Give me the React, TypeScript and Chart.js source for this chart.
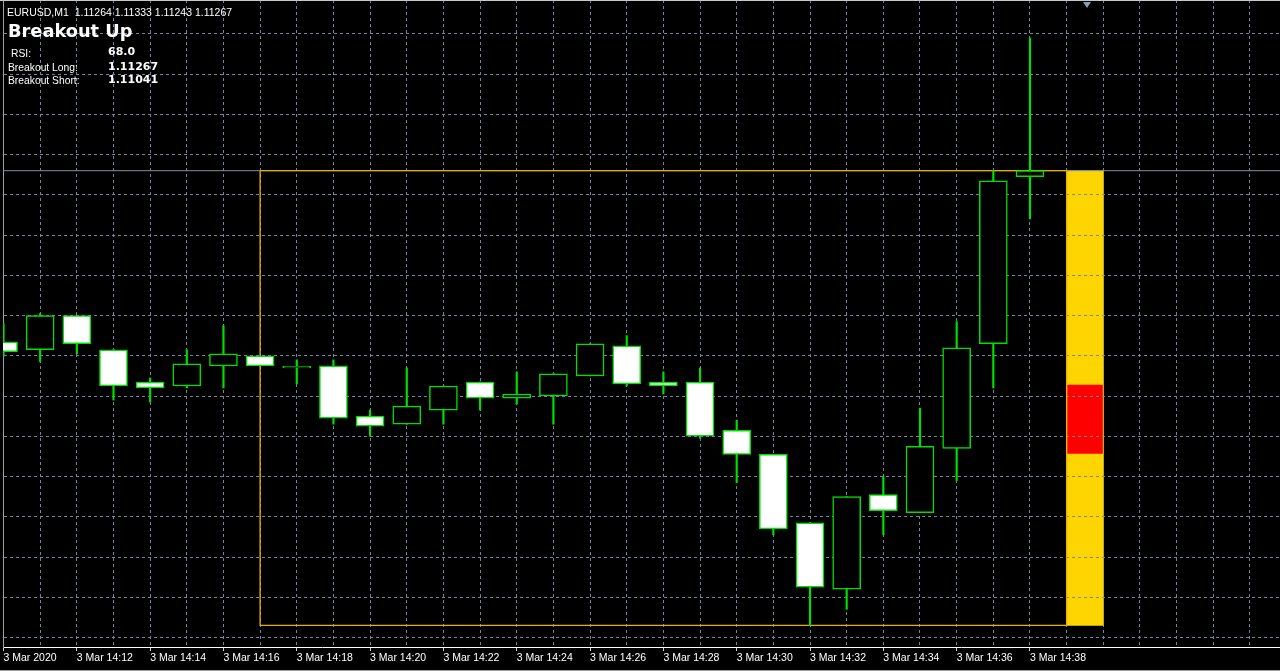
import React, { useEffect, useRef } from 'react';
import { Chart, registerables } from 'chart.js';

Chart.register(...registerables);

// ---- Data (EURUSD, M1, 3 Mar 2020) ----
const TIMES = [
  '14:10', '14:11', '14:12', '14:13', '14:14', '14:15', '14:16', '14:17', '14:18', '14:19',
  '14:20', '14:21', '14:22', '14:23', '14:24', '14:25', '14:26', '14:27', '14:28', '14:29',
  '14:30', '14:31', '14:32', '14:33', '14:34', '14:35', '14:36', '14:37', '14:38',
];
const OPEN = [
  1.11182, 1.11178, 1.11195, 1.11178, 1.11162, 1.1116, 1.1117, 1.11175, 1.11169, 1.1117,
  1.11145, 1.11141, 1.11148, 1.11162, 1.11154, 1.11155, 1.11165, 1.1118, 1.11162, 1.11162,
  1.11138, 1.11126, 1.11092, 1.11059, 1.11106, 1.11097, 1.11129, 1.11181, 1.11264,
];
const HIGH = [
  1.11191, 1.11196, 1.11195, 1.11178, 1.11164, 1.11178, 1.1119, 1.11175, 1.11173, 1.11173,
  1.11148, 1.11169, 1.1116, 1.11162, 1.11167, 1.11166, 1.11181, 1.11185, 1.11167, 1.11169,
  1.11143, 1.11126, 1.11092, 1.11105, 1.11115, 1.11149, 1.11192, 1.11267, 1.11333,
];
const LOW = [
  1.11175, 1.11172, 1.11176, 1.11153, 1.11152, 1.11159, 1.11159, 1.1117, 1.11161, 1.11141,
  1.11135, 1.11141, 1.11141, 1.11148, 1.11151, 1.11141, 1.11165, 1.1116, 1.11156, 1.11134,
  1.11112, 1.11086, 1.11041, 1.11049, 1.11086, 1.11097, 1.11113, 1.11159, 1.11243,
];
const CLOSE = [
  1.11177, 1.11195, 1.11181, 1.1116, 1.11159, 1.11171, 1.11176, 1.1117, 1.11169, 1.11144,
  1.1114, 1.1115, 1.1116, 1.11154, 1.11156, 1.11166, 1.11181, 1.11161, 1.1116, 1.11135,
  1.11126, 1.11089, 1.1106, 1.11105, 1.11098, 1.1113, 1.11179, 1.11262, 1.11267,
];

// Tick labels every two minutes (first one shows the date)
const TICK_LABELS = [
  '3 Mar 2020', '3 Mar 14:12', '3 Mar 14:14', '3 Mar 14:16', '3 Mar 14:18',
  '3 Mar 14:20', '3 Mar 14:22', '3 Mar 14:24', '3 Mar 14:26', '3 Mar 14:28',
  '3 Mar 14:30', '3 Mar 14:32', '3 Mar 14:34', '3 Mar 14:36', '3 Mar 14:38',
];

// Price grid levels
const GRID_PRICES = [
  1.11335, 1.11315, 1.11295, 1.11275, 1.11255, 1.11235, 1.11215, 1.11195,
  1.11175, 1.11155, 1.11135, 1.11115, 1.11095, 1.11075, 1.11055, 1.11035,
];

// Breakout indicator
const BREAKOUT_LONG = 1.11267;
const BREAKOUT_SHORT = 1.11041;
const RANGE_START_INDEX = 7; // 14:17
const RANGE_END_INDEX = 29; // 14:39
const ZONE_INDEX = 29.5;
const RED_ZONE = [1.111265, 1.111605];
const RSI_VALUE = '68.0';

// ---- Styles ----
const GREEN = '#00e000';
const GRID_COLOR = '#74849a';
const HLINE_COLOR = '#7f8fa0';
const RANGE_COLOR = '#e8b000';
const YELLOW = '#ffd500';
const RED = '#ff0000';

const X_MIN = -0.0136;
const X_MAX = 34.82;
const Y_MIN = 1.1103027;
const Y_MAX = 1.1135184;

const YELLOW_DS = 0;
const RED_DS = 1;

function labelFor(v: number): string {
  const i = Math.round(v);
  if (Math.abs(v - i) > 1e-6) return '';
  if (i % 2 !== 0) return '';
  return TICK_LABELS[i / 2] ?? '';
}

const gridOverZonePlugin = {
  id: 'gridOverZone',
  afterDatasetDraw(chart: any, args: any) {
    if (args.index !== RED_DS) return;
    const el = chart.getDatasetMeta(YELLOW_DS).data[0];
    if (!el) return;
    const { x, y, base, width } = el.getProps(['x', 'y', 'base', 'width'], true);
    const ctx = chart.ctx;
    ctx.save();
    ctx.beginPath();
    ctx.rect(x - width / 2, Math.min(y, base), width, Math.abs(base - y));
    ctx.clip();
    chart.scales.x.drawGrid(chart.chartArea);
    chart.scales.y.drawGrid(chart.chartArea);
    ctx.restore();
  },
};

export default function App() {
  const ref = useRef<HTMLCanvasElement>(null);

  useEffect(() => {
    document.body.style.margin = '0';
    const canvas = ref.current;
    if (!canvas) return;

    const bodies = TIMES.map((_, i) => ({ x: i, y: [OPEN[i], CLOSE[i]] }));
    const wicks = TIMES.map((_, i) => ({ x: i, y: [LOW[i], HIGH[i]] }));
    const bodyFill = TIMES.map((_, i) => (CLOSE[i] >= OPEN[i] ? '#000000' : '#ffffff'));

    const chart = new Chart(canvas, {
      type: 'bar',
      data: {
        datasets: [
          {
            type: 'bar',
            label: 'zone',
            data: [{ x: ZONE_INDEX, y: [BREAKOUT_SHORT, BREAKOUT_LONG] }],
            backgroundColor: YELLOW,
            borderWidth: 0,
            barThickness: 37,
            grouped: false,
            order: 10,
          } as any,
          {
            type: 'bar',
            label: 'red',
            data: [{ x: ZONE_INDEX, y: RED_ZONE }],
            backgroundColor: RED,
            borderWidth: 0,
            barThickness: 35,
            grouped: false,
            order: 9,
          } as any,
          {
            type: 'line',
            label: 'level',
            data: [
              { x: X_MIN - 1, y: BREAKOUT_LONG },
              { x: X_MAX + 1, y: BREAKOUT_LONG },
            ],
            borderColor: HLINE_COLOR,
            borderWidth: 1,
            pointRadius: 0,
            order: 8,
          } as any,
          {
            type: 'line',
            label: 'range',
            data: [
              { x: RANGE_START_INDEX, y: BREAKOUT_LONG },
              { x: RANGE_END_INDEX, y: BREAKOUT_LONG },
              { x: RANGE_END_INDEX, y: BREAKOUT_SHORT },
              { x: RANGE_START_INDEX, y: BREAKOUT_SHORT },
              { x: RANGE_START_INDEX, y: BREAKOUT_LONG },
            ],
            borderColor: RANGE_COLOR,
            borderWidth: 1.3,
            pointRadius: 0,
            tension: 0,
            order: 7,
          } as any,
          {
            type: 'bar',
            label: 'wick',
            data: wicks,
            backgroundColor: GREEN,
            borderWidth: 0,
            barThickness: 1.5,
            grouped: false,
            order: 6,
          } as any,
          {
            type: 'bar',
            label: 'body',
            data: bodies,
            backgroundColor: bodyFill,
            borderColor: GREEN,
            borderWidth: 1.5,
            borderSkipped: false,
            barThickness: 28,
            minBarLength: 1.5,
            grouped: false,
            order: 5,
          } as any,
        ],
      },
      options: {
        responsive: false,
        animation: false,
        devicePixelRatio: 1,
        events: [],
        layout: { padding: { left: 3, right: 0, top: 0, bottom: 0 } },
        plugins: {
          legend: { display: false },
          tooltip: { enabled: false },
          title: { display: false },
        },
        scales: {
          x: {
            type: 'linear',
            position: 'bottom',
            min: X_MIN,
            max: X_MAX,
            offset: false,
            afterBuildTicks: (s: any) => {
              const t: any[] = [];
              for (let v = 0; v <= Math.floor(X_MAX); v++) t.push({ value: v });
              s.ticks = t;
            },
            afterFit: (s: any) => {
              s.height = 24;
            },
            ticks: {
              autoSkip: false,
              maxRotation: 0,
              minRotation: 0,
              align: 'start',
              padding: 1,
              color: '#ffffff',
              font: { family: 'Liberation Sans', size: 10.5 },
              callback: (v: any) => labelFor(Number(v)),
            },
            grid: {
              color: GRID_COLOR,
              lineWidth: 1,
              offset: false,
              drawTicks: true,
              tickLength: 4,
              tickWidth: 1,
              tickColor: (c: any) =>
                c.tick && labelFor(c.tick.value) !== '' ? '#d0d0d0' : 'rgba(0,0,0,0)',
            },
            border: { display: true, color: '#ffffff', width: 1, dash: [3, 3] },
          } as any,
          y: {
            type: 'linear',
            position: 'left',
            min: Y_MIN,
            max: Y_MAX,
            afterBuildTicks: (s: any) => {
              s.ticks = GRID_PRICES.map((v) => ({ value: v }));
            },
            afterFit: (s: any) => {
              s.width = 0;
            },
            ticks: { display: false },
            grid: { color: GRID_COLOR, lineWidth: 1, drawTicks: false },
            border: { display: true, color: '#a0a0a0', width: 1, dash: [3, 3] },
          } as any,
        },
      } as any,
      plugins: [gridOverZonePlugin],
    } as any);

    return () => chart.destroy();
  }, []);

  const small = { fontFamily: 'Liberation Sans', fontSize: 10.3, fill: '#ffffff' };
  const bold = { fontFamily: 'DejaVu Sans', fontWeight: 700, fontSize: 11, fill: '#ffffff' };

  return (
    <div
      style={{
        position: 'fixed',
        left: 0,
        top: 0,
        width: 1280,
        height: 671,
        background: '#000000',
        overflow: 'hidden',
      }}
    >
      <canvas
        ref={ref}
        width={1280}
        height={671}
        style={{ position: 'absolute', left: 0, top: 0, width: 1280, height: 671 }}
      />
      <div style={{ position: 'absolute', left: 0, top: 0, width: 1280, height: 1, background: '#c8c8c8' }} />
      <div style={{ position: 'absolute', left: 0, top: 670, width: 1280, height: 1, background: '#a0a0a0' }} />
      <div
        style={{
          position: 'absolute',
          left: 1083,
          top: 2,
          width: 0,
          height: 0,
          borderLeft: '4px solid transparent',
          borderRight: '4px solid transparent',
          borderTop: '6px solid #8a9bb0',
        }}
      />
      <svg
        width={1280}
        height={100}
        style={{ position: 'absolute', left: 0, top: 0, pointerEvents: 'none' }}
      >
        <text x={7} y={16} style={{ ...small, fontSize: 10.5, whiteSpace: 'pre' }}>
          {'EURUSD,M1  1.11264 1.11333 1.11243 1.11267'}
        </text>
        <text x={8} y={36.7} style={{ fontFamily: 'DejaVu Sans', fontWeight: 700, fontSize: 17.8, fill: '#ffffff' }}>
          Breakout Up
        </text>
        <text x={11} y={56.7} style={small}>RSI:</text>
        <text x={108} y={54.5} style={bold}>{RSI_VALUE}</text>
        <text x={8} y={70.7} style={small}>Breakout Long:</text>
        <text x={108} y={70} style={bold}>{BREAKOUT_LONG.toFixed(5)}</text>
        <text x={8} y={84.3} style={small}>Breakout Short:</text>
        <text x={108} y={82.7} style={bold}>{BREAKOUT_SHORT.toFixed(5)}</text>
      </svg>
    </div>
  );
}
